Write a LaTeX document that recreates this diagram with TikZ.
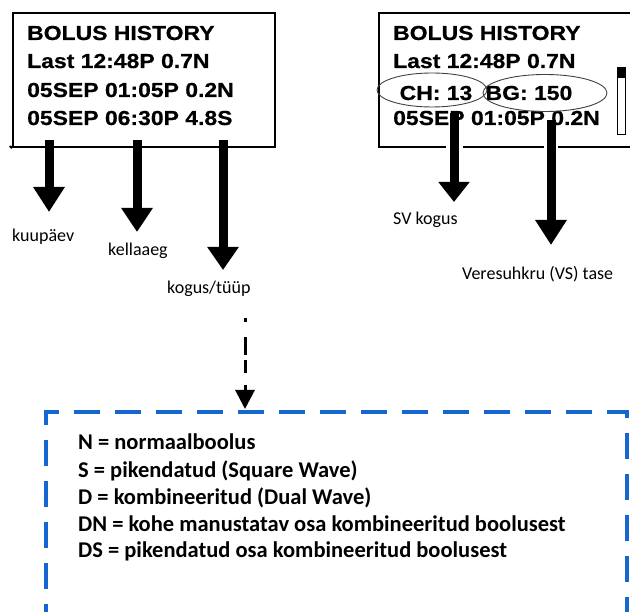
\documentclass[tikz,border=0pt]{standalone}
\usepackage{fontspec}
\usetikzlibrary{arrows.meta,shapes.geometric}
\newfontfamily\lcdfont[FakeStretch=1.13,FakeBold=0.6]{Liberation Sans}
\newfontfamily\calfont{Carlito}
\definecolor{legblue}{RGB}{22,102,210}
\tikzset{
  screen/.style={draw=black, line width=2.2pt, anchor=north west, inner sep=0pt},
  lcd/.style={anchor=base west, inner sep=0pt, font=\lcdfont\bfseries\fontsize{20.3}{24}\selectfont},
  lbl/.style={anchor=west, inner sep=0pt, font=\calfont\fontsize{18}{20}\selectfont},
  legend/.style={anchor=base west, inner sep=0pt, font=\calfont\bfseries\fontsize{22.5}{26}\selectfont},
  bigarrow/.style={line width=9pt, -{Triangle[length=#1, width=30pt]}},
  oval/.style={draw=black!75, line width=0.9pt, ellipse, inner sep=0pt},
}
\begin{document}
\begin{tikzpicture}[x=1pt, y=-1pt]
\useasboundingbox (0,0) rectangle (630,612);
\clip (0,0) rectangle (630,612);

% ---------- left screen ----------
\node[screen, minimum width=262pt, minimum height=134pt] (lbox) at (12,12) {};
\node[lcd] (l1) at (27,40) {BOLUS HISTORY};
\node[lcd] (l2) at (27,68) {Last 12:48P 0.7N};
\node[lcd] (l3) at (27,97) {05SEP 01:05P 0.2N};
\node[lcd] (l4) at (27,125) {05SEP 06:30P 4.8S};

\coordinate (a1s) at (49,140);  \coordinate (a1e) at (49,212);
\coordinate (a2s) at (137,140); \coordinate (a2e) at (137,232);
\coordinate (a3s) at (223,140); \coordinate (a3e) at (223,270);
\draw[bigarrow=25pt] (a1s) -- (a1e);
\draw[bigarrow=24pt] (a2s) -- (a2e);
\draw[bigarrow=23pt] (a3s) -- (a3e);
\draw[line width=2.2pt] (10,146) -- (lbox.south west);

\node[lbl] (t1) at (12,237) {kuupäev};
\node[lbl] (t2) at (108,251) {kellaaeg};
\node[lbl] (t3) at (167,289) {kogus/tüüp};

% ---------- right screen ----------
\node[screen, minimum width=262pt, minimum height=134pt] (rbox) at (378,12) {};
\node[lcd] (r1) at (393,40) {BOLUS HISTORY};
\node[lcd] (r2) at (393,68) {Last 12:48P 0.7N};
\node[lcd] (r4) at (393,125) {05SEP 01:05P 0.2N};
\node[lcd, anchor=base] (ch) at (436,100) {CH: 13};
\node[lcd, anchor=base] (bg) at (529,100) {BG: 150};
\node[oval, minimum width=110pt, minimum height=34pt] (e1) at (432,90) {};
\node[oval, minimum width=124pt, minimum height=37pt] (e2) at (545,93) {};

% scrollbar
\node[draw, line width=0.9pt, minimum width=8pt, minimum height=67pt, anchor=north west, inner sep=0pt] (sb) at (617,67) {};
\fill (617,67) rectangle (625,78);

\coordinate (b1s) at (454,113); \coordinate (b1e) at (454,202);
\coordinate (b2s) at (551,120); \coordinate (b2e) at (551,245);
\draw[white, line width=17pt] (454,138) -- (454,152);
\draw[white, line width=14pt] (551,138) -- (551,152);
\draw[bigarrow=20pt] (b1s) -- (b1e);
\draw[bigarrow=25pt] (b2s) -- (b2e);

\node[lbl] (t4) at (393,220) {SV kogus};
\node[lbl] (t5) at (462,274) {Veresuhkru (VS) tase};

% ---------- legend ----------
\coordinate (ds) at (245,318);
\coordinate (de) at (245,409);
\draw[line width=3pt, dash pattern=on 4pt off 15pt on 18pt off 5pt on 13pt off 12pt on 40pt,
      -{Triangle[length=19pt, width=19pt]}] (ds) -- (de);

\draw[legblue, line width=4pt, dash pattern=on 26pt off 15pt]
  (46,425) -- (46,412) -- (627,412) -- (627,640);
\draw[legblue, line width=4pt, dash pattern=on 26pt off 15pt]
  (46,440) -- (46,640);

\node[legend] (g1) at (78,450) {N = normaalboolus};
\node[legend] (g2) at (78,478) {S = pikendatud (Square Wave)};
\node[legend] (g3) at (78,505) {D = kombineeritud (Dual Wave)};
\node[legend] (g4) at (78,532) {DN = kohe manustatav osa kombineeritud boolusest};
\node[legend] (g5) at (78,558) {DS = pikendatud osa kombineeritud boolusest};
\end{tikzpicture}
\end{document}
